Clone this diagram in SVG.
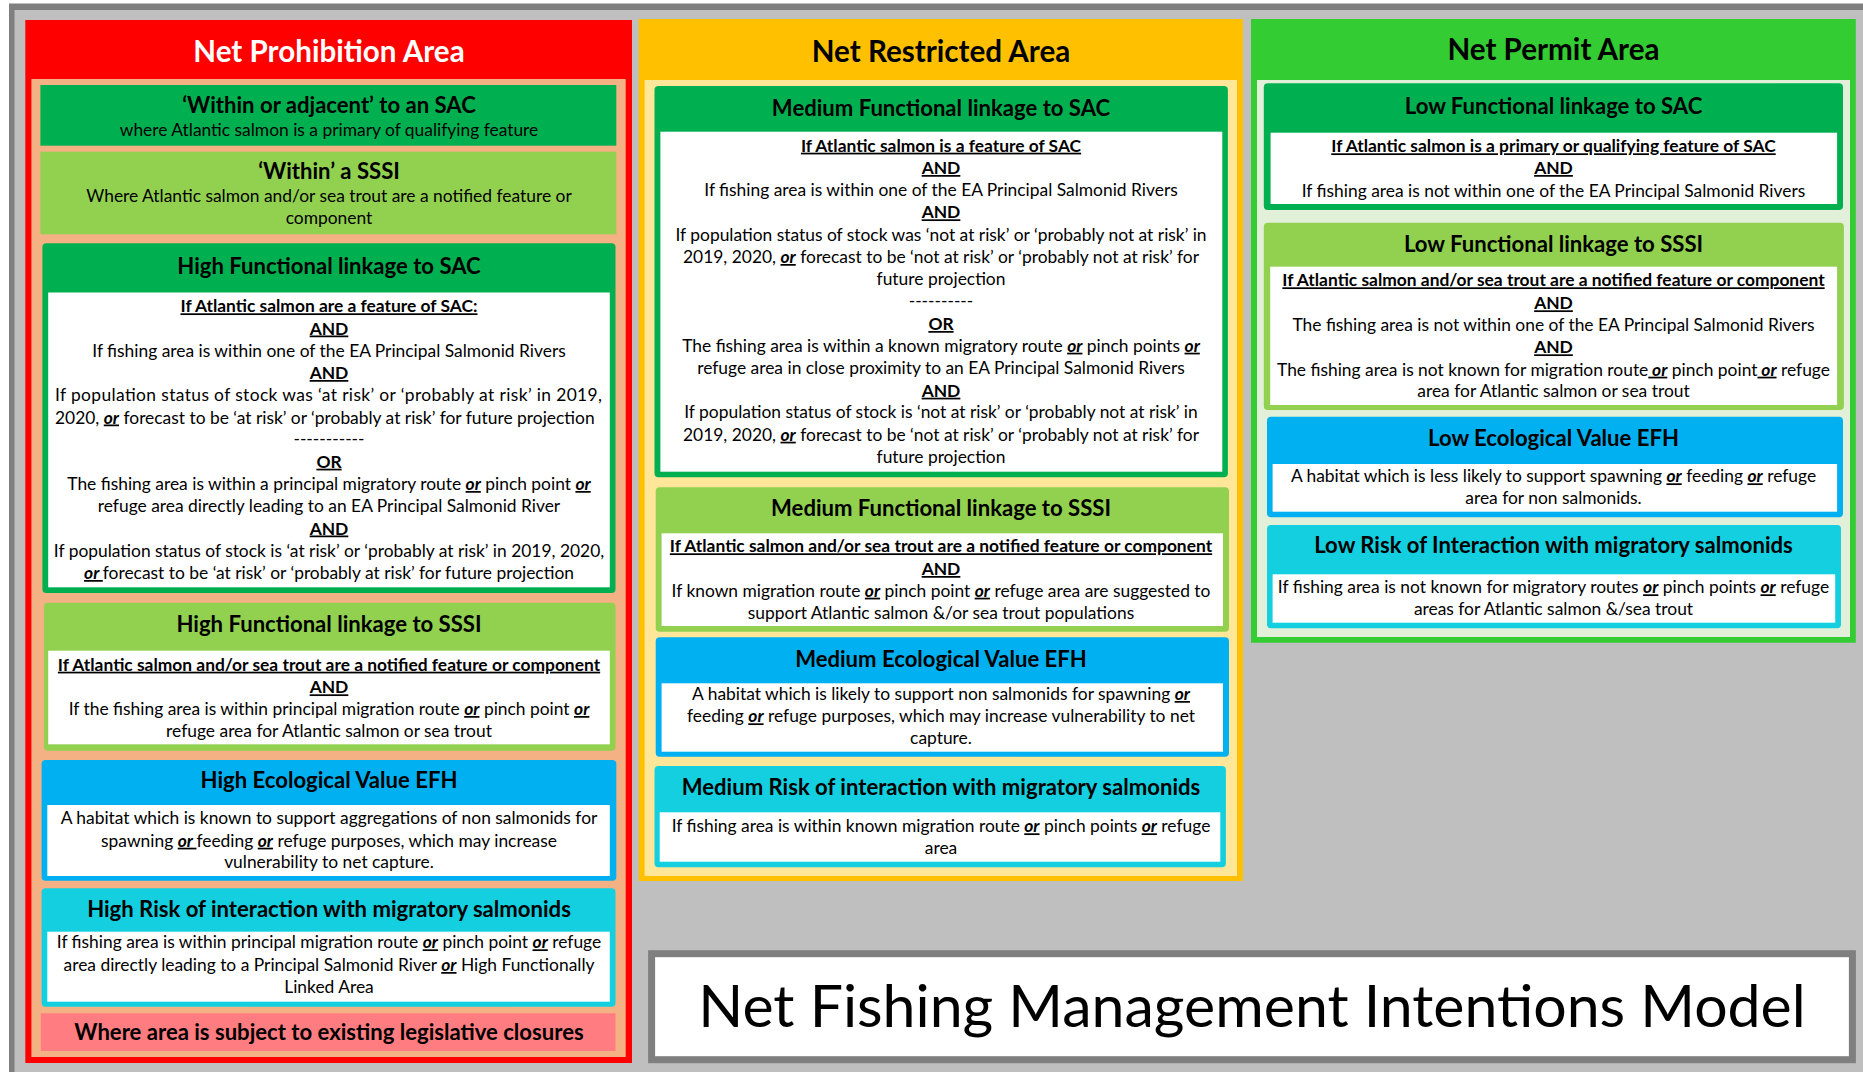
<svg xmlns="http://www.w3.org/2000/svg" width="1863" height="1072" viewBox="0 0 1863 1072">
<style>
text{font-family:Lato,"Liberation Sans",sans-serif;fill:#000}
.pt{font-size:29.6px;font-weight:bold;text-anchor:middle}
.h{font-size:22.1px;font-weight:bold;text-anchor:middle}
.b{font-size:17.4px;text-anchor:middle}
.bl{font-size:17.4px;text-anchor:start}
.u{font-weight:bold;text-decoration:underline}
.o{font-weight:bold;font-style:italic;text-decoration:underline}
.dg{fill:#00B050}.lg{fill:#92D050}.bu{fill:#00B0F0}.cy{fill:#13CFDF}.wh{fill:#fff}
</style>
<rect width="1863" height="1072" fill="#fff"/>
<rect x="9" y="3.5" width="1854" height="1069" fill="#7F7F7F"/>
<rect x="14.5" y="10" width="1849" height="1062" fill="#BFBFBF"/>

<g id="prohibition">
<rect x="25.3" y="20" width="606.7" height="1043" fill="#FF0000"/>
<rect x="31.4" y="79" width="594.3" height="978" fill="#F4B183"/>
<text class="pt" x="329" y="62" style="fill:#fff">Net Prohibition Area</text>
</g>
<g id="p-sac">
<rect class="dg" x="40.4" y="85" width="575.9" height="60.7"/>
<text class="h" x="329" y="112.5">‘Within or adjacent’ to an SAC</text>
<text class="b" x="329" y="136">where Atlantic salmon is a primary of qualifying feature</text>
</g>
<g id="p-sssi">
<rect class="lg" x="40.4" y="151.7" width="575.9" height="82.6"/>
<text class="h" x="329" y="179">‘Within’ a SSSI</text>
<text class="b" x="329" y="202">Where Atlantic salmon and/or sea trout are a notified feature or</text>
<text class="b" x="329" y="224">component</text>
</g>
<g id="p-high-sac">
<rect class="dg" x="42.4" y="243.3" width="573.1" height="349.7" rx="4"/>
<rect class="wh" x="48.2" y="292.5" width="561.6" height="294.8"/>
<text class="h" x="329" y="274">High Functional linkage to SAC</text>
<text class="b" x="329" y="312.3"><tspan class="u">If Atlantic salmon are a feature of SAC:</tspan></text>
<text class="b" x="329" y="334.5"><tspan class="u">AND</tspan></text>
<text class="b" x="329" y="356.7">If fishing area is within one of the EA Principal Salmonid Rivers</text>
<text class="b" x="329" y="379"><tspan class="u">AND</tspan></text>
<text class="bl" x="55" y="401.3" textLength="547" lengthAdjust="spacing">If population status of stock was ‘at risk’ or ‘probably at risk’ in 2019,</text>
<text class="bl" x="55" y="423.5">2020, <tspan class="o">or</tspan> forecast to be ‘at risk’ or ‘probably at risk’ for future projection</text>
<text class="b" x="329" y="445">-----------</text>
<text class="b" x="329" y="467.7"><tspan class="u">OR</tspan></text>
<text class="b" x="329" y="490">The fishing area is within a principal migratory route <tspan class="o">or</tspan> pinch point <tspan class="o">or</tspan></text>
<text class="b" x="329" y="512.3">refuge area directly leading to an EA Principal Salmonid River</text>
<text class="b" x="329" y="534.5"><tspan class="u">AND</tspan></text>
<text class="b" x="329" y="556.7">If population status of stock is ‘at risk’ or ‘probably at risk’ in 2019, 2020,</text>
<text class="b" x="329" y="579"><tspan class="o">or </tspan>forecast to be ‘at risk’ or ‘probably at risk’ for future projection</text>
</g>
<g id="p-high-sssi">
<rect class="lg" x="44" y="602.7" width="571.5" height="148" rx="4"/>
<rect class="wh" x="48.2" y="650.7" width="561.6" height="93.6"/>
<text class="h" x="329" y="631.7">High Functional linkage to SSSI</text>
<text class="b" x="329" y="670.7"><tspan class="u">If Atlantic salmon and/or sea trout are a notified feature or component</tspan></text>
<text class="b" x="329" y="693.3"><tspan class="u">AND</tspan></text>
<text class="b" x="329" y="715">If the fishing area is within principal migration route <tspan class="o">or</tspan> pinch point <tspan class="o">or</tspan></text>
<text class="b" x="329" y="736.7">refuge area for Atlantic salmon or sea trout</text>
</g>
<g id="p-high-efh">
<rect class="bu" x="41.6" y="760" width="574.7" height="120.7" rx="4"/>
<rect class="wh" x="47.3" y="805" width="562.5" height="71"/>
<text class="h" x="329" y="788.3">High Ecological Value EFH</text>
<text class="b" x="329" y="824.3">A habitat which is known to support aggregations of non salmonids for</text>
<text class="b" x="329" y="846.7">spawning <tspan class="o">or </tspan>feeding <tspan class="o">or</tspan> refuge purposes, which may increase</text>
<text class="b" x="329" y="868.3">vulnerability to net capture.</text>
</g>
<g id="p-high-risk">
<rect class="cy" x="41.6" y="888.3" width="573.9" height="118.4" rx="4"/>
<rect class="wh" x="47.3" y="931.7" width="562.5" height="70"/>
<text class="h" x="329" y="917.3">High Risk of interaction with migratory salmonids</text>
<text class="b" x="329" y="948.3">If fishing area is within principal migration route <tspan class="o">or</tspan> pinch point <tspan class="o">or</tspan> refuge</text>
<text class="b" x="329" y="971">area directly leading to a Principal Salmonid River <tspan class="o">or</tspan> High Functionally</text>
<text class="b" x="329" y="992.7">Linked Area</text>
</g>
<g id="p-closures">
<rect x="40.8" y="1013.3" width="574.7" height="37.7" fill="#FF7C80"/>
<text class="h" x="329" y="1040">Where area is subject to existing legislative closures</text>
</g>

<g id="restricted">
<rect x="638.7" y="19" width="604.3" height="862" fill="#FFC000"/>
<rect x="644.6" y="80" width="592.4" height="796" fill="#FFE699"/>
<text class="pt" x="941" y="61.7">Net Restricted Area</text>
</g>
<g id="r-medium-sac">
<rect class="dg" x="654.5" y="86" width="573.4" height="391.3" rx="4"/>
<rect class="wh" x="660.4" y="131.7" width="561.9" height="340"/>
<text class="h" x="941" y="116">Medium Functional linkage to SAC</text>
<text class="b" x="941" y="151.7"><tspan class="u">If Atlantic salmon is a feature of SAC</tspan></text>
<text class="b" x="941" y="174"><tspan class="u">AND</tspan></text>
<text class="b" x="941" y="196">If fishing area is within one of the EA Principal Salmonid Rivers</text>
<text class="b" x="941" y="218.3"><tspan class="u">AND</tspan></text>
<text class="b" x="941" y="240.7">If population status of stock was ‘not at risk’ or ‘probably not at risk’ in</text>
<text class="b" x="941" y="263">2019, 2020, <tspan class="o">or</tspan> forecast to be ‘not at risk’ or ‘probably not at risk’ for</text>
<text class="b" x="941" y="285">future projection</text>
<text class="b" x="941" y="307">----------</text>
<text class="b" x="941" y="330"><tspan class="u">OR</tspan></text>
<text class="b" x="941" y="351.7">The fishing area is within a known migratory route <tspan class="o">or</tspan> pinch points <tspan class="o">or</tspan></text>
<text class="b" x="941" y="374.3">refuge area in close proximity to an EA Principal Salmonid Rivers</text>
<text class="b" x="941" y="396.7"><tspan class="u">AND</tspan></text>
<text class="b" x="941" y="418.3">If population status of stock is ‘not at risk’ or ‘probably not at risk’ in</text>
<text class="b" x="941" y="440.7">2019, 2020, <tspan class="o">or</tspan> forecast to be ‘not at risk’ or ‘probably not at risk’ for</text>
<text class="b" x="941" y="462.7">future projection</text>
</g>
<g id="r-medium-sssi">
<rect class="lg" x="655.7" y="487.3" width="573.3" height="144.4" rx="4"/>
<rect class="wh" x="661.6" y="533.3" width="561.4" height="92.7"/>
<text class="h" x="941" y="516">Medium Functional linkage to SSSI</text>
<text class="b" x="941" y="552.3"><tspan class="u">If Atlantic salmon and/or sea trout are a notified feature or component</tspan></text>
<text class="b" x="941" y="575"><tspan class="u">AND</tspan></text>
<text class="b" x="941" y="596.7">If known migration route <tspan class="o">or</tspan> pinch point <tspan class="o">or</tspan> refuge area are suggested to</text>
<text class="b" x="941" y="619.3">support Atlantic salmon &amp;/or sea trout  populations</text>
</g>
<g id="r-medium-efh">
<rect class="bu" x="655.7" y="637.3" width="573.3" height="119.4" rx="4"/>
<rect class="wh" x="661.6" y="683.3" width="561.4" height="68.4"/>
<text class="h" x="941" y="667.3">Medium Ecological Value EFH</text>
<text class="b" x="941" y="700">A habitat which is likely to support non salmonids for spawning <tspan class="o">or</tspan></text>
<text class="b" x="941" y="722.3">feeding <tspan class="o">or</tspan> refuge purposes, which may increase vulnerability to net</text>
<text class="b" x="941" y="744.3">capture.</text>
</g>
<g id="r-medium-risk">
<rect class="cy" x="654.5" y="766" width="571.4" height="101.3" rx="4"/>
<rect class="wh" x="659.7" y="812.3" width="560.6" height="49.4"/>
<text class="h" x="941" y="795">Medium Risk of interaction with migratory salmonids</text>
<text class="b" x="941" y="832.3">If fishing area is within known migration route <tspan class="o">or</tspan> pinch points <tspan class="o">or</tspan> refuge</text>
<text class="b" x="941" y="854.3">area</text>
</g>

<g id="permit">
<rect x="1251" y="19" width="604.8" height="623.7" fill="#33CC33"/>
<rect x="1257" y="80" width="593" height="557" fill="#E2F0D9"/>
<text class="pt" x="1553.5" y="60">Net Permit Area</text>
</g>
<g id="n-low-sac">
<rect class="dg" x="1263.8" y="83.3" width="579.2" height="126.7" rx="4"/>
<rect class="wh" x="1270.6" y="132.7" width="566.5" height="71.3"/>
<text class="h" x="1553.5" y="114">Low Functional linkage to SAC</text>
<text class="b" x="1553.5" y="152.3"><tspan class="u">If Atlantic salmon is a primary or qualifying feature of SAC</tspan></text>
<text class="b" x="1553.5" y="174"><tspan class="u">AND</tspan></text>
<text class="b" x="1553.5" y="196.7">If fishing area is not within one of the EA Principal Salmonid Rivers</text>
</g>
<g id="n-low-sssi">
<rect class="lg" x="1263.8" y="222.7" width="580.1" height="187.3" rx="4"/>
<rect class="wh" x="1270.2" y="266.7" width="566.9" height="138.3"/>
<text class="h" x="1553.5" y="251.7">Low Functional linkage to SSSI</text>
<text class="b" x="1553.5" y="286.3"><tspan class="u">If Atlantic salmon and/or sea trout are a notified feature or component</tspan></text>
<text class="b" x="1553.5" y="309.3"><tspan class="u">AND</tspan></text>
<text class="b" x="1553.5" y="330.7">The fishing area is not within one of the EA Principal Salmonid Rivers</text>
<text class="b" x="1553.5" y="353.3"><tspan class="u">AND</tspan></text>
<text class="b" x="1553.5" y="375.7">The fishing area is not known for migration route<tspan class="o"> or</tspan> pinch point<tspan class="o"> or</tspan> refuge</text>
<text class="b" x="1553.5" y="397.3">area for Atlantic salmon or sea trout</text>
</g>
<g id="n-low-efh">
<rect class="bu" x="1267" y="416.7" width="576" height="100.6" rx="4"/>
<rect class="wh" x="1272.6" y="464" width="564.5" height="47.7"/>
<text class="h" x="1553.5" y="445.7">Low Ecological Value EFH</text>
<text class="b" x="1553.5" y="482.3">A habitat which is less likely to support spawning <tspan class="o">or</tspan> feeding <tspan class="o">or</tspan> refuge</text>
<text class="b" x="1553.5" y="504.3">area for non salmonids.</text>
</g>
<g id="n-low-risk">
<rect class="cy" x="1267" y="525" width="574" height="103.3" rx="4"/>
<rect class="wh" x="1272.6" y="574.3" width="562.6" height="48.4"/>
<text class="h" x="1553.5" y="553.3">Low Risk of Interaction with migratory salmonids</text>
<text class="b" x="1553.5" y="593.3">If fishing area is not known for migratory routes <tspan class="o">or</tspan> pinch points <tspan class="o">or</tspan> refuge</text>
<text class="b" x="1553.5" y="615">areas for Atlantic salmon &amp;/sea trout</text>
</g>

<g id="model-title">
<rect x="651.6" y="953.7" width="1200.8" height="106" fill="#fff" stroke="#7F7F7F" stroke-width="7"/>
<text x="1252" y="1026.7" style="font-size:59px;text-anchor:middle">Net Fishing Management Intentions Model</text>
</g>
</svg>
